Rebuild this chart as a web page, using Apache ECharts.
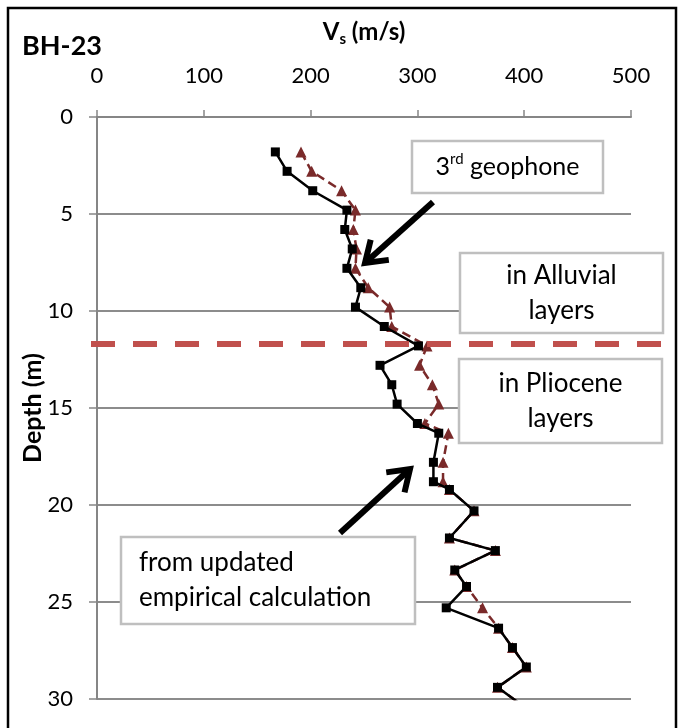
<!DOCTYPE html>
<html>
<head>
<meta charset="utf-8">
<script src="https://cdn.jsdelivr.net/npm/echarts@6/dist/echarts.min.js"></script>
<style>
  html, body { margin: 0; padding: 0; background: #fff; }
  #chart { width: 678px; height: 728px; }
</style>
</head>
<body>
<div id="chart"></div>
<script>
// depth of each reading (m)
const depths = [1.8, 2.8, 3.8, 4.8, 5.8, 6.8, 7.8, 8.8, 9.8, 10.8, 11.8, 12.8, 13.8, 14.8, 15.8, 16.3,
  17.8, 18.8, 19.2, 20.3, 21.7, 22.35, 23.35, 24.2, 25.3, 26.35, 27.35, 28.35, 29.4, 30.4]
// Vs from 3rd geophone (black squares)
const vsGeophone = [167, 178, 202, 234, 232, 239, 234, 247, 242, 269, 301, 265, 276, 281, 300, 320,
  315, 315, 330, 353, 330, 373, 335, 346, 327, 376, 389, 402, 375, 400]
// Vs from updated empirical calculation (red triangles)
const vsEmpirical = [191, 201, 229, 242, 240, 243, 242, 254, 274, 276, 309, 302, 314, 320, 307, 329,
  324, 324, 330, 353, 330, 373, 335, 346, 361, 376, 389, 402, 375, 400]
const boundaryDepth = 11.7 // Alluvial / Pliocene

const FONT = 'Lato'
const chart = echarts.init(document.getElementById('chart'))

const toPairs = vals => vals.map((v, i) => [v, depths[i]])

chart.setOption({
  animation: false,
  backgroundColor: '#fff',
  grid: { left: 97, top: 117, width: 534, height: 582 },
  xAxis: {
    type: 'value', position: 'top', min: 0, max: 500, interval: 100,
    axisLine: { lineStyle: { color: '#868686', width: 2 } },
    axisTick: { show: true, length: 7, lineStyle: { color: '#868686', width: 1.5 } },
    axisLabel: { fontFamily: FONT, fontSize: 22, color: '#000', margin: 30 },
    splitLine: { show: false }
  },
  yAxis: {
    type: 'value', inverse: true, min: 0, max: 30, interval: 5,
    axisLine: { show: true, lineStyle: { color: '#868686', width: 2 } },
    axisTick: { show: true, length: 8, lineStyle: { color: '#868686', width: 1.5 } },
    axisLabel: { fontFamily: FONT, fontSize: 22, color: '#000', margin: 24 },
    splitLine: { show: true, lineStyle: { color: '#8c8c8c', width: 2 } }
  },
  series: [
    {
      type: 'line', data: toPairs(vsEmpirical),
      symbol: 'triangle', symbolSize: 11,
      itemStyle: { color: '#7a2a2a' },
      lineStyle: { color: '#7a2a2a', width: 2.5, type: [9, 5] },
      z: 2
    },
    {
      type: 'line', data: toPairs(vsGeophone),
      symbol: 'rect', symbolSize: 9,
      itemStyle: { color: '#000' },
      lineStyle: { color: '#000', width: 2.5 },
      z: 3
    }
  ]
})

// annotation box with centred or left text
function box(x, y, w, h, text, opts) {
  opts = opts || {}
  return {
    type: 'group', z: 20,
    children: [
      { type: 'rect', shape: { x: x, y: y, width: w, height: h },
        style: { fill: '#fff', stroke: '#bfbfbf', lineWidth: 2.5 } },
      { type: 'text', x: opts.left ? x + 18 : x + w / 2, y: y + h / 2,
        style: Object.assign({
          text: text, fontFamily: FONT, fontSize: 26, fill: '#000', lineHeight: 35,
          align: opts.left ? 'left' : 'center', verticalAlign: 'middle'
        }, opts.style || {}) }
    ]
  }
}

function arrow(x1, y1, x2, y2) {
  const a = Math.atan2(y2 - y1, x2 - x1)
  const len = 24, spread = 0.6
  const p1 = [x2 - len * Math.cos(a - spread), y2 - len * Math.sin(a - spread)]
  const p2 = [x2 - len * Math.cos(a + spread), y2 - len * Math.sin(a + spread)]
  return {
    type: 'group', z: 25,
    children: [
      { type: 'line', shape: { x1: x1, y1: y1, x2: x2 - 3 * Math.cos(a), y2: y2 - 3 * Math.sin(a) },
        style: { stroke: '#000', lineWidth: 6 } },
      { type: 'polyline', shape: { points: [p1, [x2, y2], p2] },
        style: { stroke: '#000', lineWidth: 6, fill: null, lineJoin: 'miter' } }
    ]
  }
}

const yb = chart.convertToPixel({ gridIndex: 0 }, [0, boundaryDepth])[1]

chart.setOption({
  graphic: [
    { type: 'rect', z: 30, shape: { x: 8, y: 8, width: 668, height: 760 },
      style: { fill: null, stroke: '#000', lineWidth: 2.5 } },
    { type: 'text', x: 22, y: 46, style: { text: 'BH-23', fontFamily: FONT, fontWeight: 'bold',
      fontSize: 27, fill: '#000', verticalAlign: 'middle' } },
    { type: 'text', x: 364, y: 32, style: {
      text: '{a|V}{s|s}{a| (m/s)}', align: 'center', verticalAlign: 'middle',
      rich: {
        a: { fontFamily: FONT, fontWeight: 'bold', fontSize: 24, fill: '#000', lineHeight: 30 },
        s: { fontFamily: FONT, fontWeight: 'bold', fontSize: 15, fill: '#000', verticalAlign: 'bottom', lineHeight: 24 }
      } } },
    { type: 'text', x: 33, y: 408, rotation: Math.PI / 2, style: {
      text: 'Depth (m)', fontFamily: FONT, fontWeight: 'bold', fontSize: 25, fill: '#000',
      align: 'center', verticalAlign: 'middle' } },
    { type: 'line', z: 15, shape: { x1: 91, y1: yb, x2: 661, y2: yb },
      style: { stroke: '#c0504d', lineWidth: 6, lineDash: [24, 18] } },
    box(412, 141, 191, 52, '{n|3}{sup|rd}{n| geophone}', { style: {
      rich: {
        n: { fontFamily: FONT, fontSize: 25, fill: '#000', lineHeight: 30 },
        sup: { fontFamily: FONT, fontSize: 15, fill: '#000', verticalAlign: 'top', lineHeight: 30 }
      } } }),
    box(460, 253, 203, 80, 'in Alluvial\nlayers'),
    box(459, 359, 203, 84, 'in Pliocene\nlayers'),
    box(121, 537, 294, 87, 'from updated\nempirical calculation', { left: true }),
    arrow(433, 202, 365, 263),
    arrow(340, 533, 410, 469)
  ]
})
</script>
</body>
</html>
